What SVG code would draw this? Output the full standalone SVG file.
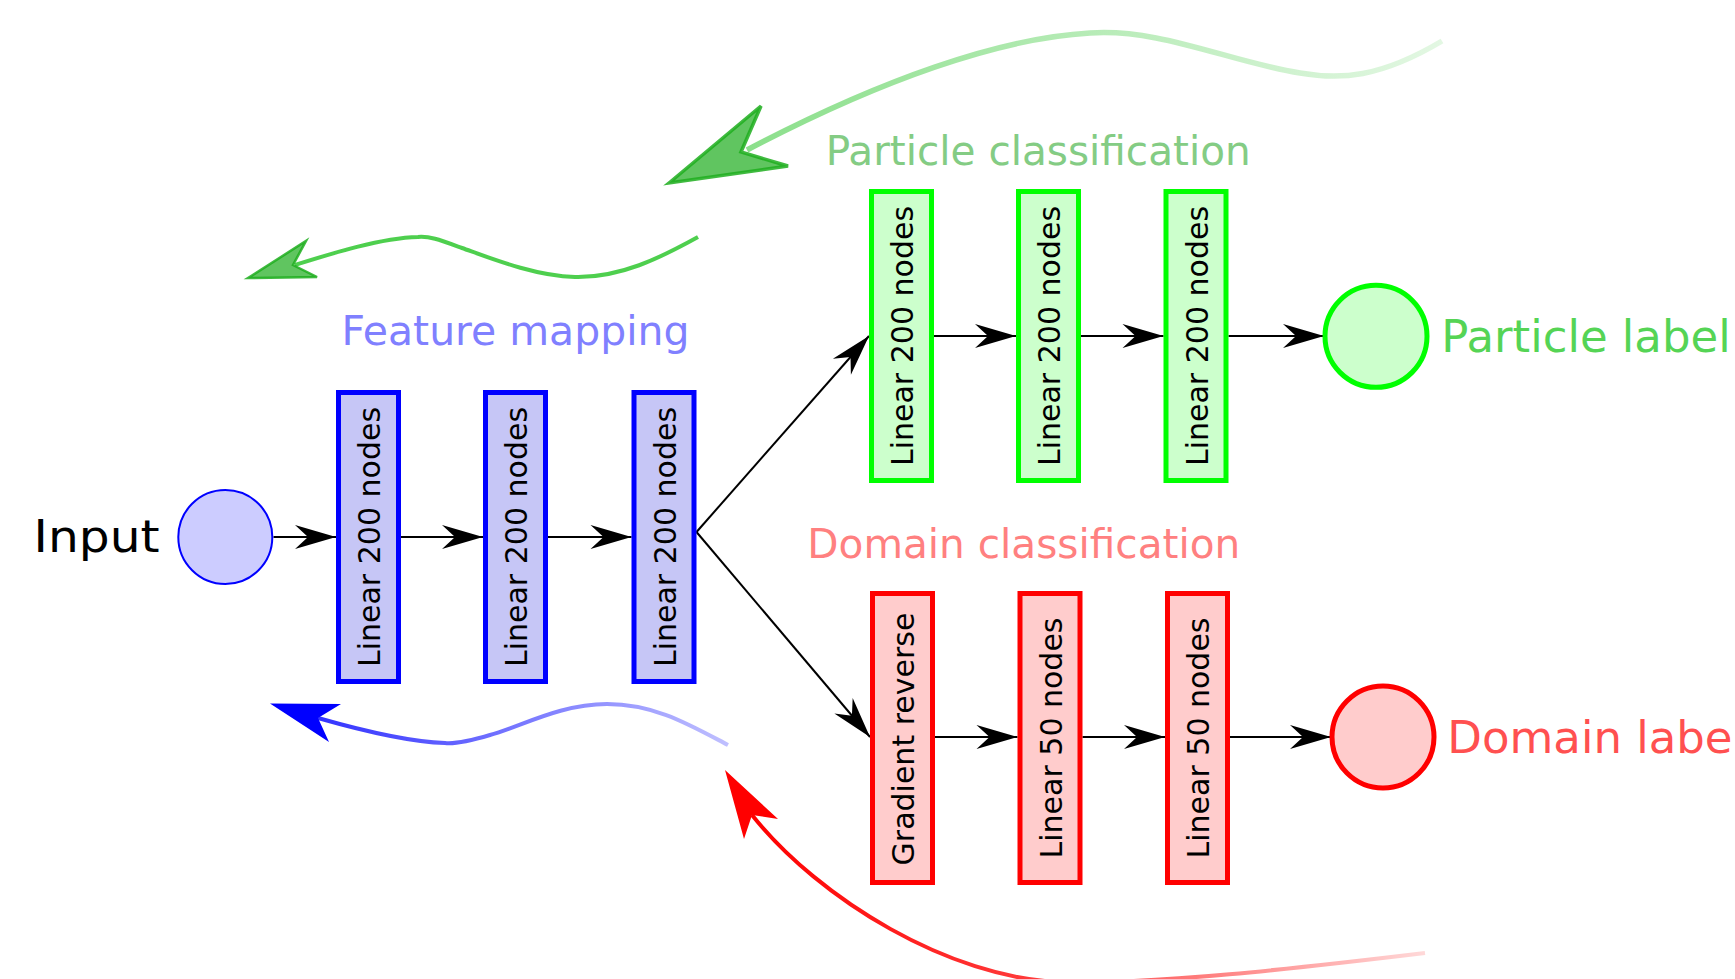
<svg xmlns="http://www.w3.org/2000/svg" width="1735" height="979" viewBox="0 0 1735 979">
  <style>
    text { font-family: "DejaVu Sans", "Liberation Sans", sans-serif; }
    .boxtxt { font-size: 30px; fill: #000000; text-anchor: middle; }
    .blue { fill: #c6c6f6; stroke: #0000ff; stroke-width: 5; }
    .green { fill: #ccffcc; stroke: #00ff00; stroke-width: 5; }
    .red { fill: #ffcccc; stroke: #ff0000; stroke-width: 5; }
    .conn { fill: none; stroke: #000000; stroke-width: 2; marker-end: url(#arr); }
  </style>
  <defs>
    <marker id="arr" markerUnits="userSpaceOnUse" viewBox="-42 -13 43 26" refX="0" refY="0" markerWidth="43" markerHeight="26" orient="auto" overflow="visible">
      <path d="M0,0 L-41,-12 L-28,0 L-41,12 Z" fill="#000000"/>
    </marker>
    <linearGradient id="gBig" gradientUnits="userSpaceOnUse" x1="747" y1="0" x2="1442" y2="0">
      <stop offset="0" stop-color="#44cc44" stop-opacity="0.62"/>
      <stop offset="1" stop-color="#44cc44" stop-opacity="0.15"/>
    </linearGradient>
    <linearGradient id="gBlue" gradientUnits="userSpaceOnUse" x1="318" y1="0" x2="728" y2="0">
      <stop offset="0" stop-color="#0000ff" stop-opacity="0.8"/>
      <stop offset="1" stop-color="#0000ff" stop-opacity="0.25"/>
    </linearGradient>
    <linearGradient id="gRed" gradientUnits="userSpaceOnUse" x1="752" y1="0" x2="1425" y2="0">
      <stop offset="0" stop-color="#ff0000" stop-opacity="1"/>
      <stop offset="0.45" stop-color="#ff0000" stop-opacity="0.75"/>
      <stop offset="1" stop-color="#ff0000" stop-opacity="0.15"/>
    </linearGradient>
  </defs>

  <!-- section titles -->
  <text x="341.5" y="345" font-size="40" fill="#8080ff" textLength="348" lengthAdjust="spacingAndGlyphs">Feature mapping</text>
  <text x="825.7" y="164.5" font-size="40" fill="#84cc84" textLength="425" lengthAdjust="spacingAndGlyphs">Particle classification</text>
  <text x="807.3" y="557.5" font-size="40" fill="#ff8080" textLength="433" lengthAdjust="spacingAndGlyphs">Domain classification</text>

  <!-- gradient flow arrows -->
  <g id="backprop">
    <path d="M1442,41 C1380,78 1340,80 1300,73 C1230,62 1160,28 1090,33 C1000,38 880,80 747,150" fill="none" stroke="url(#gBig)" stroke-width="5.5"/>
    <path d="M669,183 L761,106 L741,152 L788,166 Z" fill="#44bb44" fill-opacity="0.85" stroke="#1fae1f" stroke-opacity="0.85" stroke-width="3.5" stroke-linejoin="miter"/>
    <path d="M698,237 C660,258 620,278 575,277 C535,276 490,258 462,248 C440,240 430,236 418,237 C380,238 330,254 295,265" fill="none" stroke="#44cc44" stroke-opacity="0.95" stroke-width="4"/>
    <path d="M248,278 L306,241 L293,265 L317,277 Z" fill="#44bb44" fill-opacity="0.85" stroke="#1fae1f" stroke-opacity="0.85" stroke-width="2.5"/>
    <path d="M728,745 C690,725 655,704 607,704 C560,704 520,727 490,735 C470,741 455,744 445,743 C410,742 360,730 318,718" fill="none" stroke="url(#gBlue)" stroke-width="4"/>
    <path d="M270,703.5 L341,704 L318,718 L329,742 Z" fill="#0000ff"/>
    <path d="M1425,953 C1300,968 1150,985 1060,982 C950,978 820,900 752,815" fill="none" stroke="url(#gRed)" stroke-width="4"/>
    <path d="M725,770 L744,839 L752,815 L778,819 Z" fill="#ff0000"/>
  </g>

  <!-- connectors -->
  <g id="connectors">
    <path class="conn" d="M273.5,537 L336,537"/>
    <path class="conn" d="M401,537 L483,537"/>
    <path class="conn" d="M548,537 L631.5,537"/>
    <path class="conn" d="M696.5,532 L869,336"/>
    <path class="conn" d="M696.5,532 L870,737"/>
    <path class="conn" d="M934,336 L1016,336"/>
    <path class="conn" d="M1081,336 L1163.5,336"/>
    <path class="conn" d="M1228.5,336 L1324,336"/>
    <path class="conn" d="M935,737 L1017.5,737"/>
    <path class="conn" d="M1082.5,737 L1165,737"/>
    <path class="conn" d="M1230,737 L1331,737"/>
  </g>

  <!-- input -->
  <g id="input">
    <circle cx="225.3" cy="537" r="47" fill="#ccccff" stroke="#0000ff" stroke-width="2"/>
    <text x="33.6" y="552" font-size="44" fill="#000000" textLength="126" lengthAdjust="spacingAndGlyphs">Input</text>
  </g>

  <!-- feature mapping -->
  <g id="fm1">
    <rect class="blue" x="338.5" y="392.5" width="60" height="289"/>
    <text class="boxtxt" transform="translate(380,537) rotate(-90)">Linear 200 nodes</text>
  </g>
  <g id="fm2">
    <rect class="blue" x="485.5" y="392.5" width="60" height="289"/>
    <text class="boxtxt" transform="translate(527,537) rotate(-90)">Linear 200 nodes</text>
  </g>
  <g id="fm3">
    <rect class="blue" x="634" y="392.5" width="60" height="289"/>
    <text class="boxtxt" transform="translate(675.5,537) rotate(-90)">Linear 200 nodes</text>
  </g>

  <!-- particle classification -->
  <g id="pc1">
    <rect class="green" x="871.5" y="191.5" width="60" height="289"/>
    <text class="boxtxt" transform="translate(913,336) rotate(-90)">Linear 200 nodes</text>
  </g>
  <g id="pc2">
    <rect class="green" x="1018.5" y="191.5" width="60" height="289"/>
    <text class="boxtxt" transform="translate(1060,336) rotate(-90)">Linear 200 nodes</text>
  </g>
  <g id="pc3">
    <rect class="green" x="1166" y="191.5" width="60" height="289"/>
    <text class="boxtxt" transform="translate(1207.5,336) rotate(-90)">Linear 200 nodes</text>
  </g>
  <g id="particle-label">
    <circle cx="1376" cy="336.3" r="51" fill="#ccffcc" stroke="#00ff00" stroke-width="5"/>
    <text x="1441.3" y="352.3" font-size="45" fill="#55d455">Particle label</text>
  </g>

  <!-- domain classification -->
  <g id="dc1">
    <rect class="red" x="872.5" y="593.5" width="60" height="289"/>
    <text class="boxtxt" transform="translate(914,739) rotate(-90)">Gradient reverse</text>
  </g>
  <g id="dc2">
    <rect class="red" x="1020" y="593.5" width="60" height="289"/>
    <text class="boxtxt" transform="translate(1061.5,738) rotate(-90)">Linear 50 nodes</text>
  </g>
  <g id="dc3">
    <rect class="red" x="1167.5" y="593.5" width="60" height="289"/>
    <text class="boxtxt" transform="translate(1209,738) rotate(-90)">Linear 50 nodes</text>
  </g>
  <g id="domain-label">
    <circle cx="1383" cy="737" r="51" fill="#ffcccc" stroke="#ff0000" stroke-width="5"/>
    <text x="1447.3" y="753.3" font-size="45" fill="#ff5050">Domain label</text>
  </g>
</svg>
